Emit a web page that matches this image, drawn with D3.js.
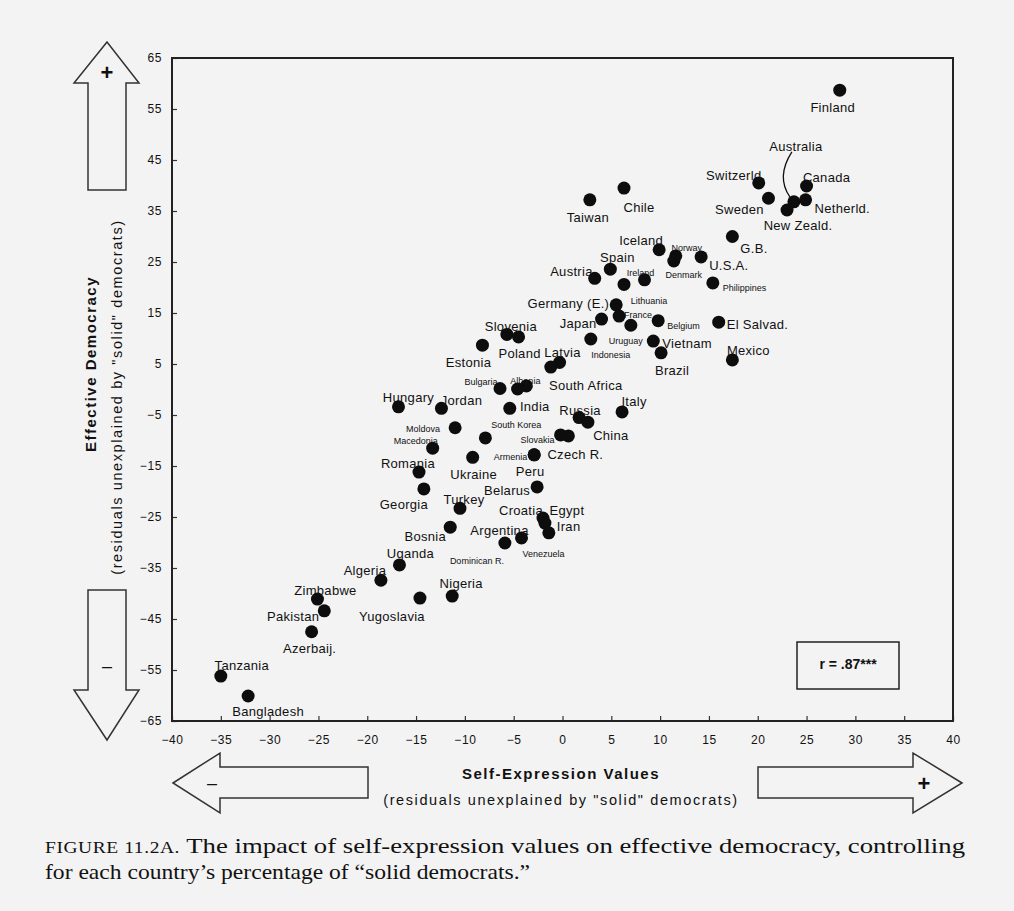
<!DOCTYPE html>
<html>
<head>
<meta charset="utf-8">
<script src="https://cdn.jsdelivr.net/npm/d3@7"></script>
<style>
  body { margin: 0; background: #f3f3f3; }
  svg text { font-family: "Liberation Sans", Arial, sans-serif; fill: #111; }
</style>
</head>
<body>
<div id="chart"></div>
<script>
const w = 1014
const h = 911

// countries, self-expression residual (x), effective democracy residual (y)
const countries = ['Finland', 'Australia', 'Switzerld.', 'Canada', 'Sweden', 'Netherld.', 'New Zeald.',
  'Taiwan', 'Chile', 'Iceland', 'Norway', 'Denmark', 'U.S.A.', 'G.B.', 'Spain', 'Austria', 'Ireland',
  'Lithuania', 'Philippines', 'Germany (E.)', 'France', 'Japan', 'Uruguay', 'Indonesia', 'Belgium',
  'Vietnam', 'Brazil', 'El Salvad.', 'Mexico', 'Slovenia', 'Poland', 'Estonia', 'Latvia', 'South Africa',
  'Bulgaria', 'Albania', '', 'India', 'Jordan', 'Hungary', 'Russia', 'China', 'Italy', 'South Korea',
  'Moldova', 'Macedonia', 'Slovakia', 'Czech R.', 'Armenia', 'Peru', 'Ukraine', 'Belarus', 'Romania',
  'Georgia', 'Turkey', 'Bosnia', 'Croatia', 'Egypt', 'Iran', 'Argentina', 'Dominican R.', 'Uganda',
  'Algeria', 'Nigeria', 'Yugoslavia', 'Zimbabwe', 'Pakistan', 'Azerbaij.', 'Tanzania', 'Bangladesh']
const selfExpression = [28.4, 23.7, 20.1, 25.0, 21.1, 24.9, 23.0,
  2.8, 6.3, 9.9, 11.6, 11.4, 14.2, 17.4, 4.9, 3.3, 8.4,
  6.3, 15.4, 5.5, 5.8, 4.0, 7.0, 2.9, 9.8,
  9.3, 10.1, 16.0, 17.4, -5.7, -4.5, -8.2, -0.3, -1.2,
  -6.4, -3.7, -4.6, -5.4, -12.4, -16.8, 1.7, 2.6, 6.1, -7.9,
  -11.0, -13.3, -0.2, 0.6, -2.9, -2.9, -9.2, -2.6, -14.7,
  -14.2, -10.5, -11.5, -2.0, -1.8, -1.4, -4.2, -5.9, -16.7,
  -18.6, -11.3, -14.6, -25.1, -24.4, -25.7, -35.0, -32.2]
const democracy = [58.7, 36.8, 40.5, 39.9, 37.5, 37.2, 35.2,
  37.2, 39.5, 27.4, 26.2, 25.2, 26.0, 30.0, 23.6, 21.8, 21.5,
  20.6, 20.9, 16.6, 14.4, 13.8, 12.6, 9.9, 13.5,
  9.5, 7.2, 13.2, 5.8, 10.8, 10.3, 8.7, 5.3, 4.4,
  0.2, 0.7, 0.1, -3.7, -3.7, -3.4, -5.5, -6.4, -4.4, -9.5,
  -7.5, -11.5, -8.9, -9.1, -12.8, -12.8, -13.3, -19.1, -16.2,
  -19.5, -23.3, -27.0, -25.2, -26.2, -28.1, -29.1, -30.1, -34.4,
  -37.4, -40.5, -40.9, -41.1, -43.4, -47.5, -56.2, -60.1]
const xTicks = d3.range(-40, 41, 5)
const yTicks = d3.range(-65, 66, 10)

// label placement: [dx, dy, anchor, small]
const labelPos = {
  'Finland': [-7, 18, 'middle'], 'Australia': [2, -55, 'middle'], 'Switzerld.': [-23, -7, 'middle'],
  'Canada': [20, -8, 'middle'], 'Sweden': [-29, 12, 'middle'], 'Netherld.': [9, 9, 'start'],
  'New Zeald.': [11, 16, 'middle'], 'Taiwan': [-2, 18, 'middle'], 'Chile': [15, 20, 'middle'],
  'Iceland': [-18, -9, 'middle'], 'Norway': [11, -9, 'middle', 1], 'Denmark': [10, 13, 'middle', 1],
  'U.S.A.': [8, 9, 'start'], 'G.B.': [8, 12, 'start'], 'Spain': [7, -11, 'middle'],
  'Austria': [-2, -6, 'end'], 'Ireland': [-4, -8, 'middle', 1], 'Lithuania': [25, 16, 'middle', 1],
  'Philippines': [10, 4, 'start', 1], 'Germany (E.)': [-7, -1, 'end'], 'France': [19, -2, 'middle', 1],
  'Japan': [-5, 5, 'end'], 'Uruguay': [-5, 15, 'middle', 1], 'Indonesia': [20, 15, 'middle', 1],
  'Belgium': [9, 4, 'start', 1], 'Vietnam': [9, 3, 'start'], 'Brazil': [11, 18, 'middle'],
  'El Salvad.': [8, 3, 'start'], 'Mexico': [16, -9, 'middle'], 'Slovenia': [4, -7, 'middle'],
  'Poland': [1, 17, 'middle'], 'Estonia': [-14, 18, 'middle'], 'Latvia': [3, -9, 'middle'],
  'South Africa': [35, 19, 'middle'], 'Bulgaria': [-19, -7, 'middle', 1], 'Albania': [-1, -6, 'middle', 1],
  'India': [25, -1, 'middle'], 'Jordan': [20, -7, 'middle'], 'Hungary': [10, -9, 'middle'],
  'Russia': [1, -7, 'middle'], 'China': [23, 14, 'middle'], 'Italy': [12, -10, 'middle'],
  'South Korea': [31, -14, 'middle', 1], 'Moldova': [-15, 0, 'end', 1], 'Macedonia': [-17, -8, 'middle', 1],
  'Slovakia': [-6, 4, 'end', 1], 'Czech R.': [7, 19, 'middle'], 'Armenia': [-7, 1, 'end', 1],
  'Peru': [-4, 17, 'middle'], 'Ukraine': [1, 18, 'middle'], 'Belarus': [-7, 4, 'end'],
  'Romania': [-11, -8, 'middle'], 'Georgia': [-20, 16, 'middle'], 'Turkey': [4, -8, 'middle'],
  'Bosnia': [-25, 10, 'middle'], 'Croatia': [-22, -7, 'middle'], 'Egypt': [22, -12, 'middle'],
  'Iran': [8, -6, 'start'], 'Argentina': [-22, -7, 'middle'],
  'Dominican R.': [-28, 17, 'middle', 1], 'Uganda': [11, -11, 'middle'], 'Algeria': [-16, -9, 'middle'],
  'Nigeria': [9, -12, 'middle'], 'Yugoslavia': [-28, 19, 'middle'], 'Zimbabwe': [8, -8, 'middle'],
  'Pakistan': [-5, 6, 'end'], 'Azerbaij.': [-2, 17, 'middle'], 'Tanzania': [21, -10, 'middle'],
  'Bangladesh': [20, 16, 'middle']
}

const data = countries.map((c, i) => ({ name: c, x: selfExpression[i], y: democracy[i] }))

const svg = d3.select('#chart')
  .append('svg')
  .attr('width', w)
  .attr('height', h)

svg.append('rect').attr('width', w).attr('height', h).attr('fill', '#f3f3f3')

const xScale = d3.scaleLinear().domain([-40, 40]).range([172, 953])
const yScale = d3.scaleLinear().domain([-65, 65]).range([721, 58])

const xAxis = d3.axisBottom(xScale).tickValues(xTicks).tickSize(-5).tickPadding(14).tickFormat(d3.format('d'))
const yAxis = d3.axisLeft(yScale).tickValues(yTicks).tickSize(-5).tickPadding(10).tickFormat(d3.format('d'))

svg.append('g')
  .attr('transform', 'translate(0,721)')
  .call(xAxis)
  .call(g => g.select('.domain').remove())
  .selectAll('text').attr('font-size', 12).attr('letter-spacing', 0.6).attr('fill', '#222')

svg.append('g')
  .attr('transform', 'translate(172,0)')
  .call(yAxis)
  .call(g => g.select('.domain').remove())
  .selectAll('text').attr('font-size', 12).attr('letter-spacing', 0.6).attr('fill', '#222')

svg.selectAll('.tick line').attr('stroke', '#333').attr('stroke-width', 1.2)

// frame
svg.append('rect')
  .attr('x', 172).attr('y', 58)
  .attr('width', 953 - 172).attr('height', 721 - 58)
  .attr('fill', 'none').attr('stroke', '#222').attr('stroke-width', 2)

// dots
svg.append('g')
  .selectAll('circle')
  .data(data)
  .enter()
  .append('circle')
  .attr('cx', d => xScale(d.x))
  .attr('cy', d => yScale(d.y))
  .attr('r', 6.5)
  .attr('fill', '#0d0d0d')

// labels
svg.append('g')
  .selectAll('text')
  .data(data.filter(d => labelPos[d.name]))
  .enter()
  .append('text')
  .attr('x', d => xScale(d.x) + labelPos[d.name][0])
  .attr('y', d => yScale(d.y) + labelPos[d.name][1] + 4)
  .attr('text-anchor', d => labelPos[d.name][2])
  .attr('font-size', d => labelPos[d.name][3] ? 9 : 13)
  .attr('letter-spacing', d => labelPos[d.name][3] ? 0 : 0.3)
  .text(d => d.name)

// Venezuela label sits next to the Argentina cluster
const arg = data.find(d => d.name === 'Argentina')
svg.append('text')
  .attr('x', xScale(arg.x) + 22).attr('y', yScale(arg.y) + 19)
  .attr('text-anchor', 'middle').attr('font-size', 9)
  .text('Venezuela')

// Australia leader line
const aus = data.find(d => d.name === 'Australia')
const ax = xScale(aus.x), ay = yScale(aus.y)
svg.append('path')
  .attr('d', `M${ax - 2},${ay - 50} Q${ax - 18},${ay - 25} ${ax - 4},${ay - 5}`)
  .attr('fill', 'none').attr('stroke', '#111').attr('stroke-width', 1.3)

// correlation box
svg.append('rect')
  .attr('x', 797).attr('y', 642).attr('width', 102).attr('height', 47)
  .attr('fill', 'none').attr('stroke', '#222').attr('stroke-width', 1.5)
svg.append('text')
  .attr('x', 848).attr('y', 669).attr('text-anchor', 'middle')
  .attr('font-size', 14).attr('font-weight', 'bold')
  .text('r = .87***')

// axis titles
svg.append('text')
  .attr('x', 561).attr('y', 779).attr('text-anchor', 'middle')
  .attr('font-size', 15).attr('font-weight', 'bold').attr('letter-spacing', 1.5)
  .text('Self-Expression Values')
svg.append('text')
  .attr('x', 561).attr('y', 805).attr('text-anchor', 'middle')
  .attr('font-size', 14.5).attr('letter-spacing', 1.6)
  .text('(residuals unexplained by "solid" democrats)')

svg.append('text')
  .attr('transform', 'translate(96,364) rotate(-90)').attr('text-anchor', 'middle')
  .attr('font-size', 15).attr('font-weight', 'bold').attr('letter-spacing', 1.5)
  .text('Effective Democracy')
svg.append('text')
  .attr('transform', 'translate(122,397) rotate(-90)').attr('text-anchor', 'middle')
  .attr('font-size', 14.5).attr('letter-spacing', 1.6)
  .text('(residuals unexplained by "solid" democrats)')

// outline arrows
const arrowStyle = g => g.attr('fill', 'none').attr('stroke', '#333').attr('stroke-width', 1.5)
svg.append('polygon')
  .attr('points', '107,42 139,83 126,83 126,190 88,190 88,83 74,83')
  .call(arrowStyle)
svg.append('polygon')
  .attr('points', '107,740 139,690 126,690 126,590 88,590 88,690 74,690')
  .call(arrowStyle)
svg.append('polygon')
  .attr('points', '173,783 220,753 220,767 368,767 368,798 220,798 220,813')
  .call(arrowStyle)
svg.append('polygon')
  .attr('points', '962,783 913,753 913,767 758,767 758,798 913,798 913,813')
  .call(arrowStyle)
svg.append('text').attr('x', 107).attr('y', 80).attr('text-anchor', 'middle')
  .attr('font-size', 22).attr('font-weight', 'bold').text('+')
svg.append('text').attr('x', 107).attr('y', 672).attr('text-anchor', 'middle')
  .attr('font-size', 18).text('–')
svg.append('text').attr('x', 212).attr('y', 789).attr('text-anchor', 'middle')
  .attr('font-size', 18).text('–')
svg.append('text').attr('x', 924).attr('y', 791).attr('text-anchor', 'middle')
  .attr('font-size', 22).attr('font-weight', 'bold').text('+')

// caption
const serif = '"Liberation Serif", "DejaVu Serif", serif'
const line1 = svg.append('text').attr('x', 45).attr('y', 853)
  .attr('textLength', 920).attr('lengthAdjust', 'spacingAndGlyphs')
  .style('font-family', serif)
line1.append('tspan').attr('font-size', 16).attr('letter-spacing', 0.5).text('FIGURE 11.2A.')
line1.append('tspan').attr('font-size', 22).text(' The impact of self-expression values on effective democracy, controlling')
svg.append('text').attr('x', 45).attr('y', 879)
  .attr('font-size', 22).style('font-family', serif)
  .attr('textLength', 485).attr('lengthAdjust', 'spacingAndGlyphs')
  .text('for each country\u2019s percentage of \u201csolid democrats.\u201d')
</script>
</body>
</html>
